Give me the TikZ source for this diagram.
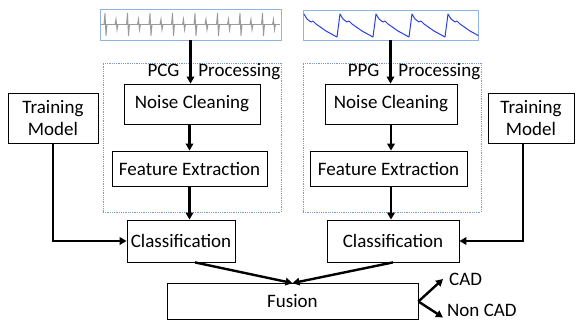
\documentclass[tikz,border=0pt]{standalone}
\usepackage{fontspec}
\setmainfont{Carlito}
\usetikzlibrary{arrows.meta}
\definecolor{sigblue}{HTML}{8DB4E2}
\definecolor{groupblue}{HTML}{7A9CC6}
\definecolor{ppgblue}{HTML}{2B3FE0}
\definecolor{pcggray}{HTML}{9A9A9A}

\begin{document}
\begin{tikzpicture}[x=1pt,y=-1pt,font=\fontsize{19}{22}\selectfont,
  box/.style={draw,line width=0.8pt,inner sep=0pt,align=center},
  group/.style={draw=groupblue,densely dotted,line width=0.8pt,inner sep=0pt},
  flow/.style={line width=2.4pt,-{Triangle[length=7pt,width=7.5pt]}}]
  \useasboundingbox (0,0) rectangle (576,322);
  \node [box,draw=sigblue,minimum width=181pt,minimum height=31pt] (pcg) at (190.5,24.5) {};
  \node [box,draw=sigblue,minimum width=175pt,minimum height=30pt] (ppg) at (390.5,25) {};
  \draw [pcggray,line width=0.9pt] (101,24.5) -- (280,24.5);
  \foreach \i [evaluate=\i as \x using 105.5+22.5*\i] in {0,...,7} {
    \draw [pcggray,line width=0.9pt] (\x-1.5,24.5) -- (\x-0.5,13) -- (\x+0.5,36) -- (\x+1.5,24.5);
    \draw [pcggray,line width=0.9pt] (\x+9.5,24.5) -- (\x+10.5,19) -- (\x+11.5,30) -- (\x+12.5,24.5);
  }
  \begin{scope}
    \clip (ppg.north west) rectangle (ppg.south east);
    \draw [ppgblue,line width=1pt,line join=round] (304,14)
      \foreach \k in {0,...,4} { -- ++(3,5) -- ++(4,3) -- ++(2,-1) -- ++(3,3) -- ++(10,7) -- ++(11,6) -- ++(3,-23) };
  \end{scope}
  \node [group,minimum width=178pt,minimum height=149pt] (pcgGroup) at (192,137.5) {};
  \node [group,minimum width=178pt,minimum height=149pt] (ppgGroup) at (392,137.5) {};
  \node [anchor=north east,inner sep=1pt] (pcgLabel) at (pcgGroup.north east) {PCG\quad Processing};
  \node [anchor=north east,inner sep=1pt] (ppgLabel) at (ppgGroup.north east) {PPG\quad Processing};
  \node [box,minimum width=136pt,minimum height=40pt] (ncL) at (192,104) {Noise Cleaning};
  \node [box,minimum width=155pt,minimum height=35pt] (feL) at (189.5,168.5) {Feature Extraction};
  \node [box,minimum width=108pt,minimum height=42pt] (clsL) at (181,241) {Classification};
  \node [box,minimum width=132pt,minimum height=40pt] (ncR) at (391,104) {Noise Cleaning};
  \node [box,minimum width=157pt,minimum height=35pt] (feR) at (388.5,168.5) {Feature Extraction};
  \node [box,minimum width=132pt,minimum height=42pt] (clsR) at (393,241) {Classification};
  \node [box,minimum width=90pt,minimum height=50pt] (trainL) at (53,118) {Training\\Model};
  \node [box,minimum width=86pt,minimum height=50pt] (trainR) at (531,118) {Training\\Model};
  \node [box,minimum width=251pt,minimum height=36pt] (fusion) at (292.5,301.5) {Fusion};
  \node [anchor=west,inner sep=1pt] (cad) at (448,279) {CAD};
  \node [anchor=west,inner sep=1pt] (noncad) at (446,310) {Non CAD};
  \coordinate (trainRdrop) at ([xshift=-8pt]trainR.south);
  \draw [flow] (pcg.south) -- (pcg.south |- ncL.north);
  \draw [flow] (ppg.south) -- (ppg.south |- ncR.north);
  \draw [flow] (feL.north |- ncL.south) -- (feL.north);
  \draw [flow] (feL.south) -- (feL.south |- clsL.north);
  \draw [flow] (ncR.south) -- (ncR.south |- feR.north);
  \draw [flow] (feR.south -| ncR) -- (clsR.north -| ncR);
  \draw [flow] (trainL.south) |- (clsL.west);
  \draw [flow] (trainRdrop) |- (clsR.east);
  \draw [flow] ([xshift=14pt]clsL.south) -- (fusion.north);
  \draw [flow] (clsR.south) -- (fusion.north);
  \draw [flow] (fusion.east) -- ([xshift=-5pt]cad.west);
  \draw [flow] (fusion.east) -- ([xshift=-3pt]noncad.south west);
\end{tikzpicture}
\end{document}
